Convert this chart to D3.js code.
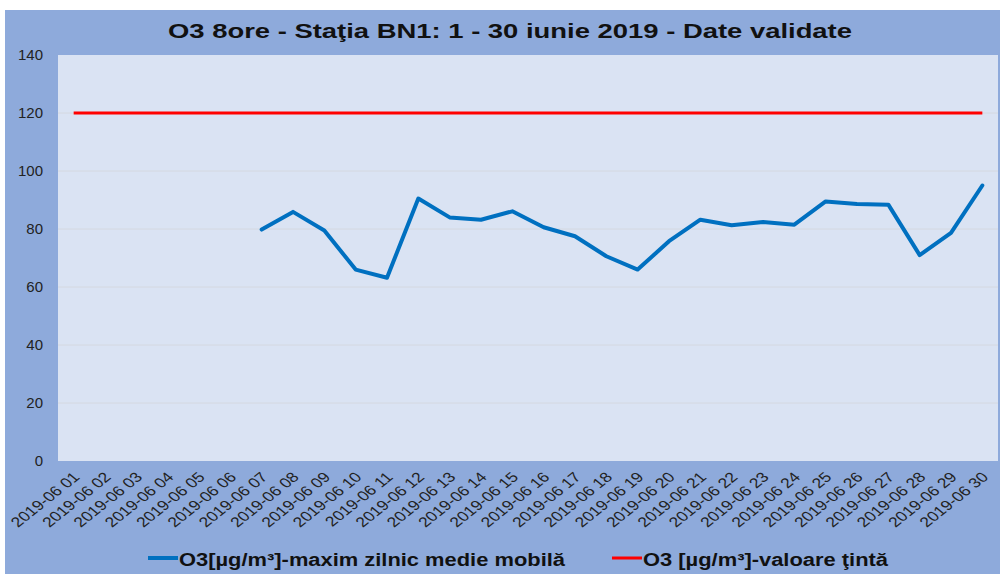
<!DOCTYPE html>
<html>
<head>
<meta charset="utf-8">
<script src="https://cdn.jsdelivr.net/npm/d3@7"></script>
<style>
  body { margin: 0; background: #fff; }
  text { font-family: "Liberation Sans", Arial, sans-serif; }
</style>
</head>
<body>
<div class="chart"></div>
<script>
const w = 1000;
const h = 574;

// data
const days = d3.range(1, 31).map((d) => "2019-06 " + String(d).padStart(2, "0"));
const o3Values = [
  null, null, null, null, null, null,
  79.8, 85.9, 79.5, 66.0, 63.2, 90.5, 84.0, 83.2, 86.1, 80.6, 77.5, 70.6,
  66.0, 75.8, 83.2, 81.3, 82.4, 81.5, 89.5, 88.6, 88.4, 71.0, 78.7, 95.0
];
const targetValues = days.map(() => 120);
const yTicks = [0, 20, 40, 60, 80, 100, 120, 140];

const titleText = "O3 8ore - Staţia BN1: 1 - 30 iunie 2019 - Date validate";
const legendLabels = ["O3[µg/m³]-maxim zilnic medie mobilă", "O3 [µg/m³]-valoare ţintă"];

const plot = { left: 58, right: 998, top: 55, bottom: 461 };

const svg = d3
  .select(".chart")
  .append("svg")
  .attr("width", w)
  .attr("height", h);

// backgrounds
svg.append("rect").attr("x", 5).attr("y", 10).attr("width", w - 5).attr("height", h - 10).attr("fill", "#8eaadb");
svg.append("rect")
  .attr("x", plot.left).attr("y", plot.top)
  .attr("width", plot.right - plot.left).attr("height", plot.bottom - plot.top)
  .attr("fill", "#dae3f3");

//scales
const xScale = d3.scaleBand().domain(days).range([plot.left, plot.right]);
const yScale = d3.scaleLinear().domain([0, 140]).range([plot.bottom, plot.top]);
const xMid = (d) => xScale(d) + xScale.bandwidth() / 2;

// grid
svg.append("g")
  .selectAll("line")
  .data(yTicks.filter((t) => t > 0 && t < 140))
  .enter()
  .append("line")
  .attr("x1", plot.left).attr("x2", plot.right)
  .attr("y1", (d) => yScale(d)).attr("y2", (d) => yScale(d))
  .attr("stroke", "#d4d8e0").attr("stroke-width", 1);

// y axis
const yAxis = d3.axisLeft(yScale).tickValues(yTicks).tickSize(0).tickPadding(15);
svg.append("g")
  .attr("transform", `translate(${plot.left},0)`)
  .call(yAxis)
  .call((g) => g.select(".domain").remove())
  .selectAll("text")
  .attr("font-size", 15)
  .attr("fill", "#222")
  .style("font-family", "Liberation Sans, Arial, sans-serif");

// x axis labels (stretched like the original picture)
const xAxis = d3.axisBottom(xScale).tickSize(0).tickPadding(0);
svg.append("g")
  .attr("transform", `translate(0,${plot.bottom})`)
  .call(xAxis)
  .call((g) => g.select(".domain").remove())
  .selectAll("text")
  .attr("font-size", 14)
  .attr("fill", "#222")
  .attr("text-anchor", "end")
  .attr("dy", 0)
  .attr("transform", "translate(7,17) scale(1.25,1) rotate(-45)")
  .style("font-family", "Liberation Sans, Arial, sans-serif");

// lines
const line = d3.line()
  .defined((d) => d.v != null)
  .x((d) => xMid(d.day))
  .y((d) => yScale(d.v));

svg.append("path")
  .datum(days.map((day, i) => ({ day, v: targetValues[i] })))
  .attr("d", line)
  .attr("fill", "none")
  .attr("stroke", "#ff0000")
  .attr("stroke-width", 3);

svg.append("path")
  .datum(days.map((day, i) => ({ day, v: o3Values[i] })))
  .attr("d", line)
  .attr("fill", "none")
  .attr("stroke", "#0070c0")
  .attr("stroke-width", 4)
  .attr("stroke-linejoin", "round")
  .attr("stroke-linecap", "round");

// title
svg.append("text")
  .attr("x", 168).attr("y", 38)
  .attr("font-size", 21)
  .attr("font-weight", "bold")
  .attr("fill", "#111")
  .attr("textLength", 684)
  .attr("lengthAdjust", "spacingAndGlyphs")
  .text(titleText);

// legend
const legend = svg.append("g");
const legendItems = [
  { x: 148, color: "#0070c0", width: 4, len: 386 },
  { x: 612, color: "#ff0000", width: 3, len: 245 }
];
legendItems.forEach((item, i) => {
  legend.append("line")
    .attr("x1", item.x).attr("x2", item.x + 30)
    .attr("y1", 558).attr("y2", 558)
    .attr("stroke", item.color).attr("stroke-width", item.width);
  legend.append("text")
    .attr("x", item.x + 31).attr("y", 566)
    .attr("font-size", 18)
    .attr("font-weight", "bold")
    .attr("fill", "#111")
    .attr("textLength", item.len)
    .attr("lengthAdjust", "spacingAndGlyphs")
    .text(legendLabels[i]);
});
</script>
</body>
</html>
